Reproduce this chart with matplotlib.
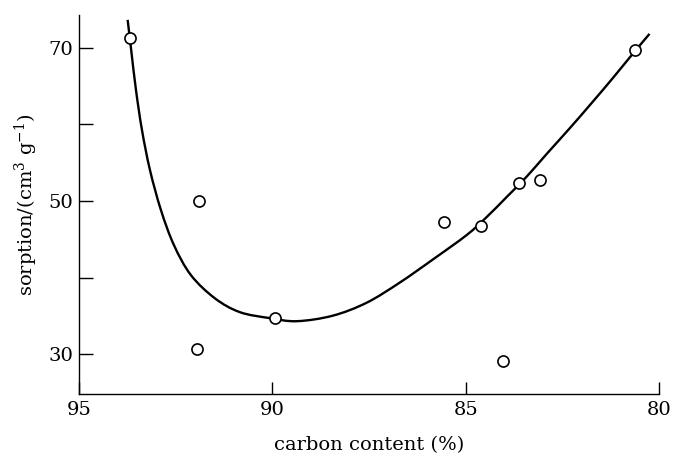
import numpy as np
import matplotlib.pyplot as plt
from matplotlib.path import Path
import matplotlib.patches as patches

plt.rcParams['font.family'] = ['DejaVu Serif']
plt.rcParams['mathtext.fontset'] = 'dejavuserif'

# measured samples: carbon content (%) vs sorption (cm3/g)
carbon = [93.68, 91.90, 91.95, 89.94, 85.57, 84.61, 83.63, 83.09, 84.04, 80.63]
sorption = [71.3, 50.0, 30.65, 34.7, 47.3, 46.7, 52.4, 52.7, 29.1, 69.7]

# hand-drawn trend curve, knots
curve_x = [93.742, 93.651, 93.527, 93.372, 93.165, 92.881, 92.545, 92.106, 91.486,
           90.840, 90.065, 89.367, 88.437, 87.558, 86.705, 85.853, 84.974, 84.457,
           83.941, 83.424, 82.907, 82.313, 81.718, 81.202, 80.659, 80.245]
curve_y = [73.66, 69.74, 64.51, 59.28, 54.05, 48.82, 44.25, 40.33, 37.30,
           35.49, 34.71, 34.31, 35.03, 36.73, 39.35, 42.35, 45.56, 47.91,
           50.52, 53.18, 56.14, 59.48, 62.94, 66.01, 69.35, 71.83]


def smooth_path(xs, ys):
    # Catmull-Rom knots turned into cubic Bezier segments, drawn by matplotlib
    p = np.column_stack([xs, ys])
    verts = [p[0]]
    codes = [Path.MOVETO]
    n = len(p)
    for i in range(n - 1):
        p0 = p[max(i - 1, 0)]
        p1 = p[i]
        p2 = p[i + 1]
        p3 = p[min(i + 2, n - 1)]
        verts += [p1 + (p2 - p0) / 6.0, p2 - (p3 - p1) / 6.0, p2]
        codes += [Path.CURVE4] * 3
    return Path(verts, codes)


fig = plt.figure(figsize=(6.73, 4.53), dpi=100)
ax = fig.add_axes([0.1174, 0.1302, 0.8618, 0.8368])

ax.add_patch(patches.PathPatch(smooth_path(curve_x, curve_y), fill=False,
                               edgecolor='black', lw=1.7, capstyle='butt'))
ax.plot(carbon, sorption, 'o', ms=8, mfc='white', mec='black', mew=1.2, zorder=3)

ax.set_xlim(95, 80)
ax.set_ylim(24.8, 74.3)
ax.set_xticks([95, 90, 85, 80])
ax.set_yticks([30, 40, 50, 60, 70])
ax.set_yticklabels(['30', '', '50', '', '70'])

for s in ['top', 'right']:
    ax.spines[s].set_visible(False)
for s in ['left', 'bottom']:
    ax.spines[s].set_linewidth(1.0)

ax.tick_params(axis='y', direction='in', length=10, width=1.0, labelsize=14, pad=4)
ax.tick_params(axis='x', direction='in', length=9, width=1.0, labelsize=14, pad=5)

ax.set_xlabel('carbon content (%)', fontsize=14, labelpad=12)
ax.set_ylabel(r'sorption/(cm$^3$ g$^{-1}$)', fontsize=14, labelpad=6)

fig.savefig('out.png', dpi=100)
